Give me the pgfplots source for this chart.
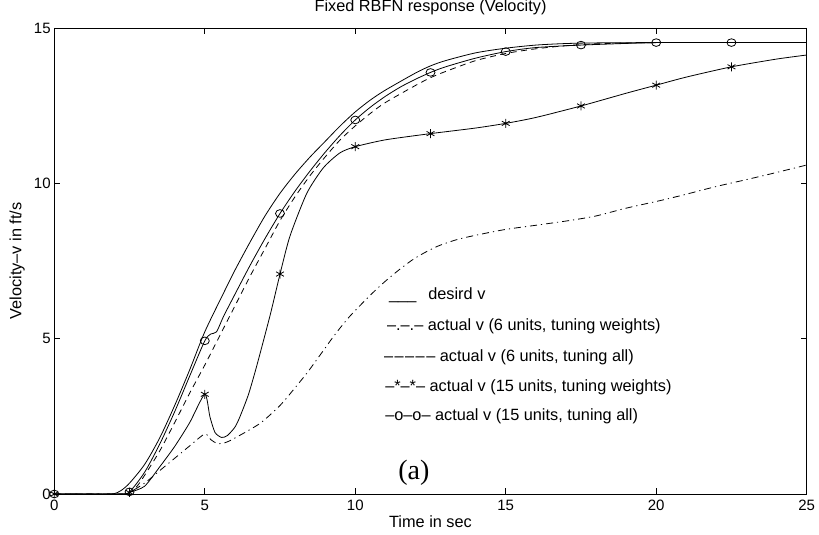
\documentclass[border=0pt]{standalone}
\usepackage{fontspec}
\setmainfont{Liberation Sans}
\newfontfamily\serifa{Liberation Serif}
\usepackage{pgfplots}
\pgfplotsset{compat=1.18}
\begin{document}
\begin{tikzpicture}
\path[use as bounding box] (-54.3pt,-41pt) rectangle (764.7pt,494pt);
\begin{axis}[
  at={(0,0)}, anchor=south west,
  scale only axis, width=752.4pt, height=466pt,
  xmin=0, xmax=25, ymin=0, ymax=15,
  xtick={0,5,10,15,20,25}, ytick={0,5,10,15},
  tick align=inside, major tick length=6pt,
  axis line style={line width=0.9pt},
  every tick/.style={black, line width=0.7pt},
  /pgf/number format/assume math mode=true,
  tick label style={font=\fontsize{15}{18}\selectfont, inner sep=0pt},
  xticklabel style={yshift=-6pt},
  yticklabel style={xshift=-3.5pt},
  title={Fixed RBFN response (Velocity)},
  title style={font=\fontsize{16.3}{19}\selectfont, at={(axis description cs:0.5,1.032)}, anchor=center, inner sep=0pt},
  xlabel={Time in sec},
  xlabel style={font=\fontsize{16.3}{19}\selectfont, at={(axis description cs:0.5,-0.0594)}, anchor=center, inner sep=0pt},
  ylabel={Velocity–v in ft/s},
  ylabel style={font=\fontsize{16.3}{19}\selectfont, at={(axis description cs:-0.0492,0.5)}, anchor=center, inner sep=0pt},
  every axis plot/.append style={black, line width=0.8pt},
]
% desired v
\addplot[smooth, tension=0.45] coordinates {
(0,0) (1,0) (1.9,0) (2.2,0.1) (2.5,0.35) (3,0.95) (3.5,1.8) (4,2.85) (4.5,4.0) (5,5.22)
(5.62,6.46) (6,7.2) (6.5,8.1) (7,8.95) (7.5,9.68) (8,10.3) (8.5,10.85) (9,11.35)
(9.5,11.85) (10,12.3) (10.5,12.68) (11,13.0) (12,13.55) (12.5,13.78) (13,13.95)
(14,14.2) (15,14.35) (16,14.45) (17,14.5) (18,14.52) (20,14.53) (25,14.53)};
% 6 units, tuning weights (dash-dot)
\addplot[smooth, tension=0.45, dash pattern=on 7pt off 4pt on 1.2pt off 4pt] coordinates {
(0,0) (1,0) (2.3,0) (2.5,0.05) (3,0.35) (3.5,0.75) (4,1.15) (4.5,1.55) (5,1.93)
(5.2,1.75) (5.4,1.63) (5.6,1.63) (5.8,1.7) (6,1.8) (6.83,2.27) (7.5,2.85) (7.94,3.35)
(8.4,3.9) (8.83,4.47) (9.3,5.1) (9.8,5.7) (10.5,6.4) (11,6.85) (11.5,7.25) (12,7.6)
(12.7,7.96) (13.5,8.22) (14.9,8.5) (16,8.65) (17.1,8.8) (18,8.95) (19,9.2) (20.2,9.46)
(21,9.65) (22,9.9) (23,10.12) (24,10.35) (25,10.59)};
% 6 units, tuning all (dashed)
\addplot[smooth, tension=0.45, dash pattern=on 6pt off 4.5pt] coordinates {
(0,0) (1,0) (2.3,0) (2.5,0.05) (2.74,0.24) (3,0.6) (3.5,1.38) (4,2.3) (4.5,3.25) (5,4.15)
(5.5,5.1) (6,6.05) (6.5,7.0) (7,7.9) (7.5,8.8) (8,9.57) (8.5,10.25) (9,10.85)
(9.5,11.4) (10,11.85) (10.5,12.25) (11,12.6) (12,13.15) (12.5,13.4) (13,13.6)
(14,13.95) (15,14.18) (16,14.33) (17,14.43) (18,14.49) (20,14.53) (25,14.53)};
% 15 units, tuning weights (stars)
\addplot[smooth, tension=0.4] coordinates {
(0,0) (1,0) (2.3,0) (2.5,0.05) (3,0.25) (3.5,0.87) (4,1.53) (4.5,2.3) (5,3.21)
(5.17,2.49) (5.34,1.98) (5.56,1.82) (5.75,1.88) (6,2.15) (6.17,2.49) (6.45,3.2)
(6.72,4.1) (7.17,5.75) (7.5,7.08) (7.83,8.3) (8.39,9.68) (8.94,10.5) (9.49,10.98)
(10,11.18) (11,11.4) (12.5,11.6) (14,11.78) (15,11.93) (16,12.12)
(17.5,12.49) (19,12.9) (20,13.16) (21,13.42) (22.5,13.75) (24,14.0) (25,14.13)};
\addplot[only marks, mark=asterisk, mark size=4.5pt, mark options={line width=0.8pt}] coordinates {
(0,0) (2.5,0.05) (5,3.21) (7.5,7.08) (10,11.18) (12.5,11.6) (15,11.93) (17.5,12.49) (20,13.16) (22.5,13.75)};
% 15 units, tuning all (circles)
\addplot[smooth, tension=0.45] coordinates {
(0,0) (1,0) (2.2,0) (2.5,0.07) (3,0.7) (3.5,1.6) (4,2.65) (4.5,3.8) (5,4.93)
(5.2,5.15) (5.39,5.22) (5.62,5.71) (5.96,6.35) (6.5,7.35) (7,8.22) (7.5,9.03) (8,9.75)
(8.5,10.4) (9,11.0) (9.5,11.55) (10,12.04) (10.5,12.45) (11,12.8) (11.5,13.1)
(12,13.35) (12.5,13.57) (13,13.75) (14,14.03) (15,14.24) (16,14.37) (17.5,14.45)
(20,14.53) (22.5,14.53) (25,14.53)};
\addplot[only marks, mark=o, mark size=4.5pt, mark options={line width=0.8pt, yscale=0.85}] coordinates {
(0,0) (2.5,0.07) (5,4.93) (7.5,9.03) (10,12.04) (12.5,13.57) (15,14.24) (17.5,14.45) (20,14.53) (22.5,14.53)};
% legend text
\begin{scope}[every node/.style={font=\fontsize{16.3}{19}\selectfont, inner sep=0pt, anchor=base west}]
\node at (axis cs:11.12,6.276) {\_\_\_\hspace{12pt}desird v};
\node at (axis cs:11.05,5.278) {–.–.– actual v (6 units, tuning weights)};
\node at (axis cs:10.95,4.281) {–\kern1.5pt–\kern1.5pt–\kern1.5pt–\kern1.5pt– actual v (6 units, tuning all)};
\node at (axis cs:10.99,3.315) {–*–*– actual v (15 units, tuning weights)};
\node at (axis cs:10.99,2.35) {–o–o– actual v (15 units, tuning all)};
\end{scope}
\node[font=\serifa\fontsize{28}{32}\selectfont, inner sep=0pt, anchor=center] at (axis cs:11.95,0.676) {(a)};
\end{axis}
\end{tikzpicture}
\end{document}
